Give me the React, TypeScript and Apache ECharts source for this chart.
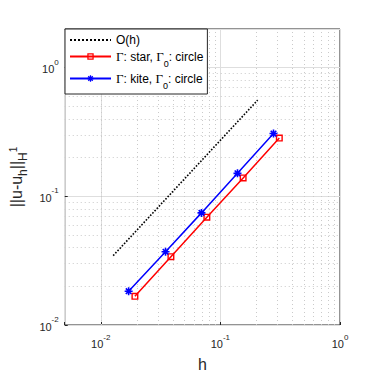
import React, { useEffect, useRef } from 'react';
import * as echarts from 'echarts';

// ---- data ----
const hStar = [0.0193, 0.0386, 0.0771, 0.155, 0.311];
const errStar = [0.0167, 0.034, 0.0689, 0.139, 0.284];
const hKite = [0.0171, 0.0348, 0.0695, 0.139, 0.278];
const errKite = [0.0183, 0.0371, 0.0744, 0.151, 0.308];
const hRef = [0.0127, 0.205];
const refVals = [0.0346, 0.56];

const seriesNames = ['O(h)', 'star', 'kite'];
const legendTexts = [
  'O(h)',
  '{g|Γ}: star, {g|Γ}{sub|0}: circle',
  '{g|Γ}: kite, {g|Γ}{sub|0}: circle',
];

const xRange = [0.005, 1];
const yRange = [0.01, 2];
const minorMantissas = [2, 3, 4, 5, 6, 7, 8, 9];
const xDecades = [0.001, 0.01, 0.1];
const yDecades = [0.01, 0.1, 1];

const FONT = '"Liberation Sans", Arial, Helvetica, sans-serif';
const AX = '#262626';

const minorValues = (decades: number[], range: number[]) => {
  const out: number[] = [];
  decades.forEach((d) => minorMantissas.forEach((m) => {
    const v = m * d;
    if (v > range[0] * 1.0001 && v < range[1] * 0.9999) out.push(v);
  }));
  return out;
};

const powLabel = (v: number) => {
  const e = Math.log10(v);
  const r = Math.round(e);
  if (Math.abs(e - r) > 1e-6) return '';
  return `{b|10}{s|${r}}`;
};

const tickRich = {
  b: { fontSize: 11, color: AX, fontFamily: FONT, padding: [3, 0, 0, 0] },
  s: { fontSize: 8, color: AX, fontFamily: FONT, padding: [0, 0, 11, 0] },
};

const SQUARE_RING = 'path://M0 0L10 0L10 10L0 10Z M2 2L2 8L8 8L8 2Z';
const ASTERISK =
  'path://M0 4L10 4L10 6L0 6Z M4 0L6 0L6 10L4 10Z ' +
  'M2.21 0.79L9.21 7.79L7.79 9.21L0.79 2.21Z ' +
  'M0.79 7.79L7.79 0.79L9.21 2.21L2.21 9.21Z';

const zip = (a: number[], b: number[]) => a.map((x, i) => [x, b[i]]);

export default function App() {
  const ref = useRef<HTMLDivElement>(null);
  useEffect(() => {
    if (!ref.current) return;
    const chart = echarts.init(ref.current, undefined, { renderer: 'svg' });
    const xMinor = minorValues(xDecades, xRange);
    const yMinor = minorValues(yDecades, yRange);
    chart.setOption({
      animation: false,
      backgroundColor: '#fff',
      textStyle: { fontFamily: FONT },
      grid: {
        left: 64, top: 29, width: 276, height: 298,
        show: true, borderColor: AX, borderWidth: 1, backgroundColor: '#fff',
      },
      legend: {
        data: seriesNames,
        orient: 'vertical',
        left: 65, top: 29,
        padding: [5, 4, 4, 4],
        itemGap: 4,
        itemWidth: 41,
        itemHeight: 8,
        backgroundColor: '#fff',
        borderColor: AX,
        borderWidth: 1,
        borderRadius: 0,
        formatter: (name: string) => legendTexts[seriesNames.indexOf(name)],
        textStyle: {
          fontSize: 12, color: '#000', fontFamily: FONT,
          rich: {
            g: { fontSize: 13, fontFamily: '"Liberation Serif", "Times New Roman", serif', color: '#000' },
            sub: { fontSize: 9, fontFamily: FONT, color: '#000', padding: [7, 0, -7, 0] },
          },
        },
      },
      xAxis: {
        type: 'log', logBase: 10, min: xRange[0], max: xRange[1],
        name: 'h', nameLocation: 'middle', nameGap: 31,
        nameTextStyle: { fontSize: 16, color: AX, fontFamily: FONT },
        axisLine: { show: false },
        axisTick: { show: true, inside: true, length: 3, lineStyle: { color: AX } },
        axisLabel: { formatter: powLabel, margin: 8, rich: tickRich },
        splitLine: { show: true, lineStyle: { color: '#dedede', width: 1 } },
      },
      yAxis: {
        type: 'log', logBase: 10, min: yRange[0], max: yRange[1],
        name: '||u-u{sub|h}||{sub|H}{sup|1}', nameLocation: 'middle', nameGap: 36,
        nameTextStyle: {
          fontSize: 16, color: AX, fontFamily: FONT,
          rich: {
            sub: { fontSize: 12, color: AX, fontFamily: FONT, padding: [13, 0, 0, 0] },
            sup: { fontSize: 10, color: AX, fontFamily: FONT, padding: [0, 0, 6, 0] },
          },
        },
        axisLine: { show: false },
        axisTick: { show: true, inside: true, length: 3, lineStyle: { color: AX } },
        axisLabel: { formatter: powLabel, margin: 6, rich: tickRich },
        splitLine: { show: true, lineStyle: { color: '#dedede', width: 1 } },
      },
      series: [
        {
          name: 'minor-grid', type: 'line', data: [], silent: true, z: 1,
          markLine: {
            silent: true, z: 1, animation: false,
            symbol: ['none', 'none'],
            label: { show: false },
            emphasis: { disabled: true },
            lineStyle: { color: '#cacaca', type: [1, 3], width: 1 },
            data: [
              ...xMinor.map((v) => ({ xAxis: v })),
              ...yMinor.map((v) => ({ yAxis: v })),
            ],
          },
        },
        {
          name: seriesNames[0], type: 'line', z: 3,
          data: zip(hRef, refVals),
          symbol: 'none',
          itemStyle: { color: 'rgba(0,0,0,0)', opacity: 0 },
          lineStyle: { color: '#000', width: 1.6, type: 'dotted' },
        },
        {
          name: seriesNames[1], type: 'line', z: 3,
          data: zip(hStar, errStar),
          symbol: SQUARE_RING, symbolSize: 7,
          itemStyle: { color: '#ff0000' },
          lineStyle: { color: '#ff0000', width: 1.5 },
        },
        {
          name: seriesNames[2], type: 'line', z: 4,
          data: zip(hKite, errKite),
          symbol: ASTERISK, symbolSize: 8,
          itemStyle: { color: '#0000ff' },
          lineStyle: { color: '#0000ff', width: 1.5 },
        },
      ],
    });
    return () => chart.dispose();
  }, []);
  return (
    <div
      ref={ref}
      style={{ position: 'fixed', left: 0, top: 0, width: 377, height: 377, background: '#fff' }}
    />
  );
}
